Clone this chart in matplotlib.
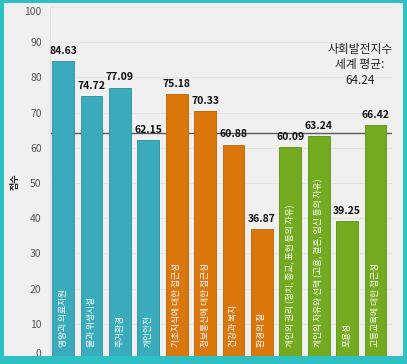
import matplotlib
matplotlib.use('Agg')
import matplotlib.pyplot as plt
from matplotlib.patches import Rectangle

plt.rcParams['font.family'] = ['Noto Sans CJK KR', 'DejaVu Sans']

# data
categories = ['영양과 의료지원', '물과 위생시설', '주거환경', '개인안전',
              '기초지식에 대한 접근성', '정보통신에 대한 접근성', '건강과 복지', '환경의 질',
              '개인의 권리 (정치, 종교, 표현 등의 자유)',
              '개인의 자유와 선택 (고용, 결혼, 임신 등의 자유)',
              '포용성', '고등교육에 대한 접근성']
scores = [84.63, 74.72, 77.09, 62.15, 75.18, 70.33, 60.88, 36.87,
          60.09, 63.24, 39.25, 66.42]
groups = [0, 0, 0, 0, 1, 1, 1, 1, 2, 2, 2, 2]
world_avg = 64.24
yticks = list(range(0, 101, 10))

group_colors = ['#3aabbb', '#d9770b', '#73aa1f']
edge_colors = ['#2f8f9c', '#b86206', '#5f8f17']
frame_color = '#2ec0c2'

fig = plt.figure(figsize=(4.07, 3.64), dpi=100)
fig.patch.set_facecolor('#f0f0f0')

ax = fig.add_axes([50 / 407, 5 / 364, 342 / 407, 352 / 364])
ax.set_facecolor('#f0f0f0')

x = list(range(len(scores)))
cols = [group_colors[g] for g in groups]
ecols = [edge_colors[g] for g in groups]
ax.bar(x, scores, width=0.77, color=cols, edgecolor=ecols, linewidth=0.6, zorder=3)

ax.axhline(world_avg, color='#5a5a5a', linewidth=1.0, zorder=2)

for xi, v, lab in zip(x, scores, categories):
    ax.text(xi, v + 1.5, f'{v:.2f}', ha='center', va='bottom', fontsize=7.5,
            color='#111111', fontweight='bold', zorder=4)
    ax.text(xi, 3.4, lab, rotation=90, ha='center', va='bottom', fontsize=6.3,
            color='white', zorder=4)

ax.text(10.46, 77.3, '사회발전지수\n세계 평균:\n64.24', ha='center', va='bottom',
        fontsize=8.5, color='#222222', linespacing=1.25, zorder=4)

ax.set_ylim(0, 100)
ax.set_xlim(-0.46, 11.58)
ax.set_yticks(yticks)
ax.set_yticklabels([str(t) for t in yticks], fontsize=7.5, color='#555555')
ax.tick_params(axis='y', length=0, pad=6)
# first and last labels are kept inside the frame
labels = ax.get_yticklabels()
labels[0].set_va('bottom')
labels[-1].set_va('top')
ax.set_xticks([])
ax.grid(axis='y', color='#e2e2e2', linewidth=0.6, zorder=0)
for s in ['top', 'right', 'bottom']:
    ax.spines[s].set_visible(False)
ax.spines['left'].set_color('#dcdcdc')
ax.spines['left'].set_linewidth(0.6)

fig.text(15 / 407, 0.5, '점수', rotation=90, ha='center', va='center',
         fontsize=6.5, fontweight='bold', color='#222222')

# teal frame drawn on top
for (fx, fy, fw, fh) in [(0, 0, 1, 8 / 364), (0, 361 / 364, 1, 3 / 364),
                         (0, 0, 4 / 407, 1), (403 / 407, 0, 4 / 407, 1)]:
    fig.patches.append(Rectangle((fx, fy), fw, fh, transform=fig.transFigure,
                                 facecolor=frame_color, edgecolor='none', zorder=10))

fig.savefig('out.png', dpi=100, facecolor=fig.get_facecolor())
